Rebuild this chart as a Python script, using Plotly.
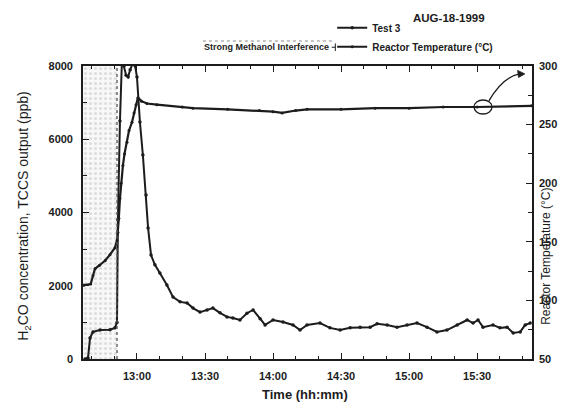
import pandas as pd
import plotly.graph_objects as go

DAY = "1999-08-18 "

# Test 3: H2CO concentration / TCCS output (ppb)
h2co_time = [
    "12:37:06", "12:38:24", "12:39:18", "12:40:36", "12:43:42", "12:48:06", "12:50:18",
    "12:51:12", "12:51:36", "12:52:30", "12:53:24", "12:54:18", "12:55:12", "12:56:06",
    "12:57:00", "12:58:18", "12:59:12", "13:00:00", "13:01:18", "13:02:36", "13:04:00",
    "13:04:54", "13:06:12", "13:07:54", "13:10:06", "13:13:12", "13:15:54", "13:19:00",
    "13:22:06", "13:24:42", "13:27:48", "13:30:54", "13:33:30", "13:36:36", "13:39:42",
    "13:42:18", "13:45:24", "13:48:30", "13:51:12", "13:54:18", "13:56:30", "14:00:00",
    "14:04:24", "14:08:48", "14:11:54", "14:15:00", "14:20:42", "14:25:06", "14:29:36",
    "14:34:00", "14:38:24", "14:42:48", "14:45:54", "14:50:18", "14:54:42", "14:59:06",
    "15:03:30", "15:07:54", "15:12:18", "15:16:42", "15:21:12", "15:25:36", "15:28:12",
    "15:30:24", "15:32:36", "15:37:00", "15:40:06", "15:43:12", "15:45:54", "15:49:00",
    "15:51:12", "15:53:24",
]
h2co_ppb = [
    0, 30, 570, 740, 790, 800, 850,
    1000, 3800, 6500, 8200, 8000, 7750, 7700,
    7900, 8100, 8000, 7700, 6470, 5570, 4480,
    3580, 2840, 2570, 2350, 2020, 1690, 1560,
    1530, 1390, 1280, 1340, 1390, 1260, 1150,
    1120, 1065, 1250, 1340, 1100, 930, 1065,
    1010, 930, 790, 930, 980, 850, 790,
    850, 870, 870, 960, 930, 870, 930,
    980, 870, 740, 790, 930, 1065, 980,
    1065, 870, 930, 850, 870, 710, 740,
    930, 980,
]

# Reactor temperature (deg C)
temp_time = [
    "12:36:36", "12:39:36", "12:40:36", "12:41:30", "12:43:30", "12:46:00", "12:48:06",
    "12:50:18", "12:51:12", "12:51:36", "12:52:00", "12:52:30", "12:53:00", "12:53:48",
    "12:54:30", "12:55:36", "12:56:30", "12:57:48", "12:58:42", "12:59:36", "13:00:24",
    "13:02:00", "13:04:24", "13:08:48", "13:20:00", "13:24:42", "13:40:00", "13:54:00",
    "14:00:00", "14:04:00", "14:10:00", "14:15:00", "14:30:00", "14:45:00", "15:00:00",
    "15:15:00", "15:30:00", "15:54:00",
]
temp_c = [
    113, 114, 121, 127, 130, 134, 139,
    145, 151, 158, 170, 187, 200, 215,
    225, 235, 245, 252, 260, 267, 273,
    270, 268, 267, 265, 264, 263, 262,
    261, 260, 262, 263, 263, 264, 264,
    265, 265, 266,
]

# Methanol interference window
interference_start = "12:36:00"
interference_end = "12:51:12"

x_range = ["12:36:12", "15:54:12"]
circle_at = ("15:32:36", 265)

INK = "#1c1c1c"
FONT = "Liberation Sans, Arial, sans-serif"


def ts(t):
    return DAY + t


fig = go.Figure()

# speckled band marking the interference window
a, b = pd.Timestamp(ts(interference_start)), pd.Timestamp(ts(interference_end))
fig.add_trace(go.Bar(
    x=[a + (b - a) / 2], y=[8000], width=[(b - a).total_seconds() * 1000],
    marker=dict(color="#f7f7f7", line=dict(width=0),
                pattern=dict(shape=".", fgcolor="#c2c2c2", bgcolor="#f8f8f8",
                             size=5, solidity=0.3)),
    showlegend=False, hoverinfo="skip",
))

fig.add_trace(go.Scatter(
    x=[ts(t) for t in h2co_time], y=h2co_ppb, name="Test 3",
    mode="lines+markers", line=dict(color=INK, width=2),
    marker=dict(size=3.5, color=INK),
))
fig.add_trace(go.Scatter(
    x=[ts(t) for t in temp_time], y=temp_c, name="Reactor Temperature (°C)",
    yaxis="y2", mode="lines+markers", line=dict(color=INK, width=2.2),
    marker=dict(size=3, color=INK),
))

# dotted marker at the end of the interference window
fig.add_shape(type="line", xref="x", yref="y", x0=ts(interference_end), x1=ts(interference_end),
              y0=0, y1=8000, line=dict(color="#555", width=1.3, dash="dot"))

# circle on the temperature trace and arrow toward its axis
fig.add_shape(type="circle", xref="x", yref="y2",
              xsizemode="pixel", ysizemode="pixel",
              xanchor=ts(circle_at[0]), yanchor=circle_at[1],
              x0=-9, x1=9, y0=-7, y1=7, line=dict(color=INK, width=1.3))
fig.add_shape(type="path", xref="paper", yref="paper",
              path="M 0.904,0.881 Q 0.935,0.962 0.972,0.973",
              line=dict(color=INK, width=1.3))
fig.add_shape(type="path", xref="paper", yref="paper",
              path="M 0.984,0.973 L 0.968,0.985 L 0.970,0.961 Z",
              fillcolor=INK, line=dict(color=INK, width=0.8))

# interference key beside the legend
fig.add_shape(type="line", xref="paper", yref="paper", x0=0.267, x1=0.555,
              y0=1.085, y1=1.085, line=dict(color="#c4c4c4", width=2, dash="dot"))
fig.add_annotation(xref="paper", yref="paper", x=0.552, y=1.064,
                   text="Strong Methanol Interference", showarrow=False,
                   xanchor="right", yanchor="middle",
                   font=dict(family=FONT, size=9, color=INK, weight="bold"))
fig.add_shape(type="line", xref="paper", yref="paper", x0=0.554, x1=0.562,
              y0=1.064, y1=1.064, line=dict(color=INK, width=1))
fig.add_shape(type="line", xref="paper", yref="paper", x0=0.562, x1=0.562,
              y0=1.051, y1=1.077, line=dict(color=INK, width=1))

fig.add_annotation(xref="paper", yref="paper", x=0.9, y=1.19, text="AUG-18-1999",
                   showarrow=False, font=dict(family=FONT, size=11.5, color=INK, weight="bold"))

# axis titles
fig.add_annotation(xref="paper", yref="paper", x=-0.155, y=0.49,
                   text="H<sub>2</sub>CO concentration, TCCS output (ppb)",
                   textangle=-90, showarrow=False,
                   font=dict(family=FONT, size=14, color=INK))
fig.add_annotation(xref="paper", yref="paper", x=1.052, y=0.35,
                   text="Reactor Temperature (°C)", textangle=-90, showarrow=False,
                   font=dict(family=FONT, size=12, color=INK))
fig.add_annotation(xref="paper", yref="paper", x=0.494, y=-0.155,
                   text="Time (hh:mm)", showarrow=False,
                   font=dict(family=FONT, size=13, color=INK, weight="bold"))

tickfont = dict(family=FONT, size=11, color=INK, weight="bold")

fig.update_layout(
    width=570, height=404,
    margin=dict(l=83, r=38, t=66, b=45),
    paper_bgcolor="white", plot_bgcolor="white",
    bargap=0,
    font=dict(family=FONT, color=INK),
    legend=dict(x=0.555, y=1.18, xanchor="left", yanchor="top",
                bgcolor="rgba(0,0,0,0)", font=dict(family=FONT, size=10, color=INK, weight="bold"),
                tracegroupgap=0, itemwidth=30),
    xaxis=dict(
        type="date", range=[ts(x_range[0]), ts(x_range[1])],
        tickformat="%H:%M", dtick=30 * 60 * 1000, tick0=ts("13:00:00"),
        ticks="inside", ticklen=6, tickwidth=1.3, tickcolor=INK,
        minor=dict(dtick=10 * 60 * 1000, ticks="inside", ticklen=3, tickcolor=INK),
        showline=True, linecolor=INK, linewidth=1.6, mirror="ticks",
        showgrid=False, zeroline=False, tickfont=tickfont, ticklabelstandoff=6,
    ),
    yaxis=dict(
        range=[0, 8000], dtick=2000, tick0=0,
        ticks="inside", ticklen=6, tickwidth=1.3, tickcolor=INK,
        minor=dict(dtick=1000, ticks="inside", ticklen=4, tickcolor=INK),
        showline=True, linecolor=INK, linewidth=1.6,
        showgrid=False, zeroline=False, tickfont=tickfont, ticklabelstandoff=6,
    ),
    yaxis2=dict(
        range=[50, 300], dtick=50, tick0=50, overlaying="y", side="right",
        ticks="inside", ticklen=6, tickwidth=1.3, tickcolor=INK,
        minor=dict(dtick=25, ticks="inside", ticklen=4, tickcolor=INK),
        showline=True, linecolor=INK, linewidth=1.6,
        showgrid=False, zeroline=False, tickfont=tickfont, ticklabelstandoff=3,
    ),
)

fig.write_html("out.html")
